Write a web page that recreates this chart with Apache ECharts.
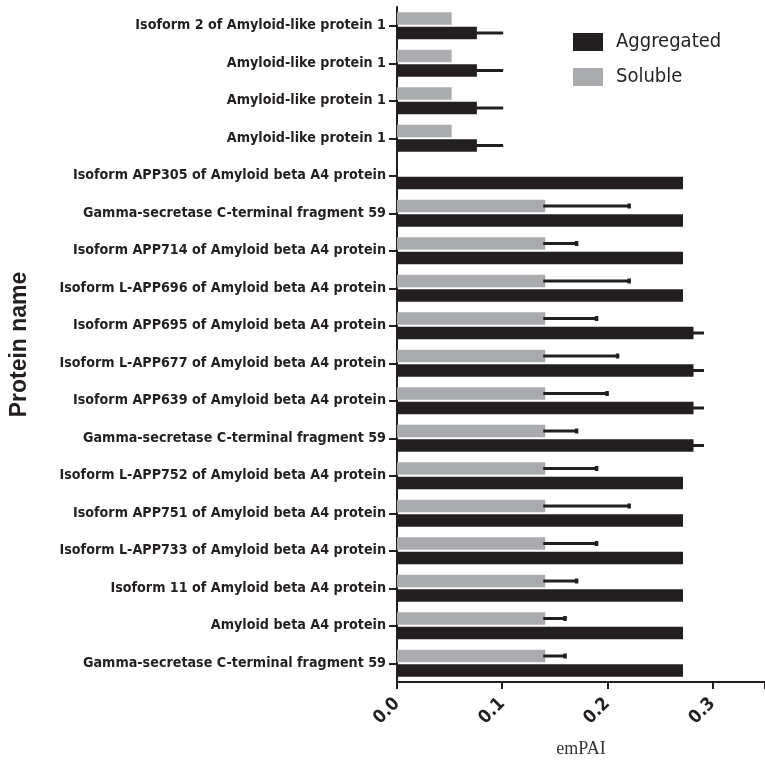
<!DOCTYPE html>
<html><head><meta charset="utf-8">
<script src="https://cdn.jsdelivr.net/npm/echarts@6/dist/echarts.min.js"></script>
<style>html,body{margin:0;padding:0;background:#fff}#c{width:765px;height:765px}</style>
</head><body><div id="c"></div>
<script>
var categories = [
  "Isoform 2 of Amyloid-like protein 1",
  "Amyloid-like protein 1",
  "Amyloid-like protein 1",
  "Amyloid-like protein 1",
  "Isoform APP305 of Amyloid beta A4 protein",
  "Gamma-secretase C-terminal fragment 59",
  "Isoform APP714 of Amyloid beta A4 protein",
  "Isoform L-APP696 of Amyloid beta A4 protein",
  "Isoform APP695 of Amyloid beta A4 protein",
  "Isoform L-APP677 of Amyloid beta A4 protein",
  "Isoform APP639 of Amyloid beta A4 protein",
  "Gamma-secretase C-terminal fragment 59",
  "Isoform L-APP752 of Amyloid beta A4 protein",
  "Isoform APP751 of Amyloid beta A4 protein",
  "Isoform L-APP733 of Amyloid beta A4 protein",
  "Isoform 11 of Amyloid beta A4 protein",
  "Amyloid beta A4 protein",
  "Gamma-secretase C-terminal fragment 59"
];
var aggregated    = [0.076,0.076,0.076,0.076,0.272,0.272,0.272,0.272,0.282,0.282,0.282,0.282,0.272,0.272,0.272,0.272,0.272,0.272];
var aggregatedErr = [0.025,0.025,0.025,0.025,0,0,0,0,0.010,0.010,0.010,0.010,0,0,0,0,0,0];
var soluble       = [0.052,0.052,0.052,0.052,0,0.141,0.141,0.141,0.141,0.141,0.141,0.141,0.141,0.141,0.141,0.141,0.141,0.141];
var solubleErr    = [0,0,0,0,0,0.081,0.031,0.081,0.050,0.070,0.060,0.031,0.050,0.081,0.050,0.031,0.020,0.020];
var xTicks = [0.0, 0.1, 0.2, 0.3];

var BLACK = '#231f20', GRAY = '#a9abae';
var BW = 12.5, GAP = 2;
var labelFont = '"Liberation Sans Narrow","Arial Narrow","DejaVu Sans Condensed","Liberation Sans",Arial,sans-serif';

function errSeries(name, vals, errs, off, cap) {
  var data = vals.map(function (v, i) { return [v, i, errs[i]]; });
  return {
    type: 'custom', name: name + ' err', silent: true, z: 5,
    data: data,
    encode: { x: 0, y: 1 },
    renderItem: function (params, api) {
      var v = api.value(0), i = api.value(1), e = api.value(2);
      if (!e) return null;
      var p0 = api.coord([v, i]);
      var p1 = api.coord([v + e, i]);
      var y = p0[1] + off;
      var children = [{
        type: 'line',
        shape: { x1: p0[0] - 2, y1: y, x2: p1[0], y2: y },
        style: { stroke: BLACK, lineWidth: 3 }
      }];
      if (cap) children.push({
        type: 'rect',
        shape: { x: p1[0] - 3, y: y - 2.5, width: 3.5, height: 5 },
        style: { fill: BLACK }
      });
      return { type: 'group', children: children };
    }
  };
}

var chart = echarts.init(document.getElementById('c'), null, { renderer: 'canvas' });
chart.setOption({
  animation: false,
  backgroundColor: '#fff',
  grid: { left: 397, right: 0, top: 7, bottom: 83, containLabel: false, outerBoundsMode: 'none' },
  legend: {
    orient: 'vertical', left: 573, top: 32, padding: 0,
    itemWidth: 30, itemHeight: 18, itemGap: 15,
    data: ['Aggregated', 'Soluble'],
    icon: 'rect',
    textStyle: { fontSize: 20, color: BLACK, fontFamily: labelFont, padding: [0, 0, 0, 8] }
  },
  xAxis: {
    type: 'value', min: 0, max: 0.35, interval: 0.1,
    name: 'emPAI', nameLocation: 'middle', nameGap: 58,
    nameTextStyle: { fontFamily: '"Liberation Serif","Times New Roman",serif', fontSize: 18, color: '#333' },
    axisLine: { show: true, lineStyle: { color: BLACK, width: 2 } },
    axisTick: { show: true, length: 7, lineStyle: { color: BLACK, width: 2 } },
    splitLine: { show: false },
    axisLabel: {
      rotate: 45, margin: 19, fontSize: 18, fontWeight: 'bold', color: BLACK,
      fontFamily: labelFont,
      customValues: xTicks,
      formatter: function (v) { return v.toFixed(1); }
    }
  },
  yAxis: {
    type: 'category', data: categories, inverse: true,
    name: 'Protein name', nameLocation: 'middle', nameGap: 366, nameRotate: 90,
    nameTextStyle: { fontFamily: '"Liberation Sans",Arial,sans-serif', fontSize: 23, fontWeight: 'bold', color: BLACK },
    axisLine: { show: true, lineStyle: { color: BLACK, width: 2 } },
    axisTick: { show: true, length: 8, alignWithLabel: true, lineStyle: { color: BLACK, width: 2 } },
    axisLabel: { margin: 11, fontSize: 14.2, fontWeight: 'bold', color: BLACK, fontFamily: labelFont }
  },
  series: [
    { type: 'bar', name: 'Soluble', data: soluble, barWidth: BW, barGap: '16%',
      itemStyle: { color: GRAY } },
    { type: 'bar', name: 'Aggregated', data: aggregated, barWidth: BW, barGap: '16%',
      itemStyle: { color: BLACK } },
    errSeries('Soluble', soluble, solubleErr, -(BW + GAP) / 2, true),
    errSeries('Aggregated', aggregated, aggregatedErr, (BW + GAP) / 2, false)
  ]
});
</script></body></html>
